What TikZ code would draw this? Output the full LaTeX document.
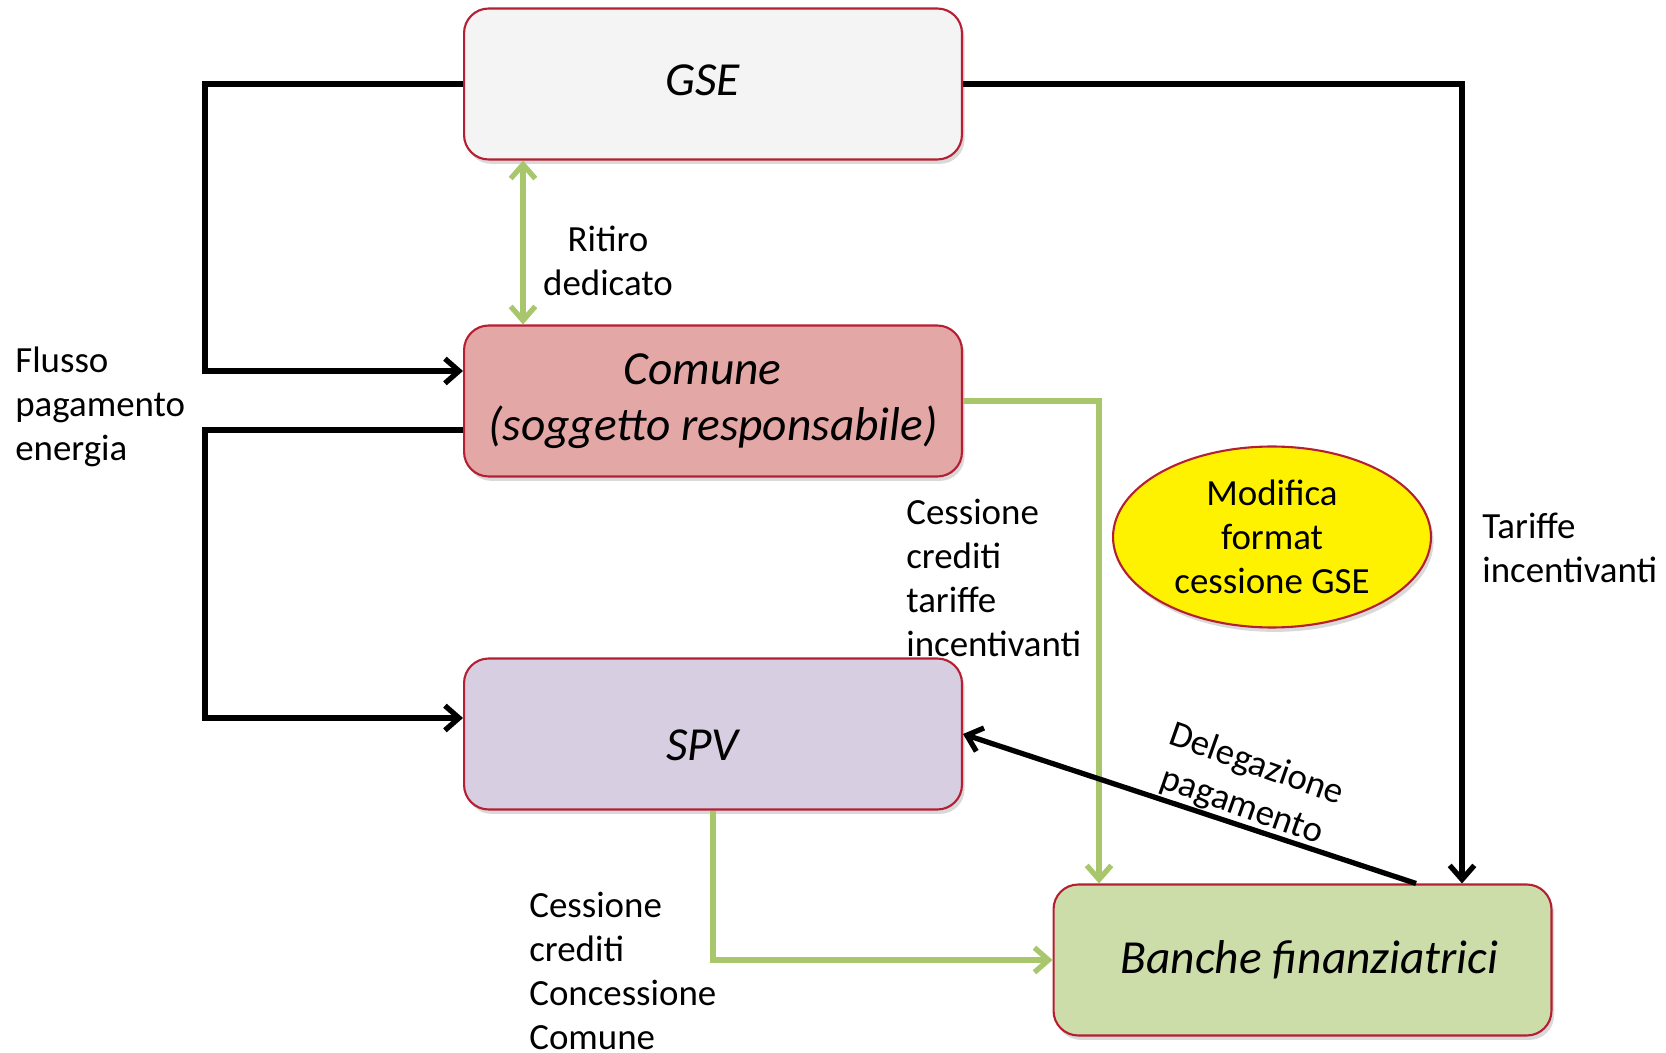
\documentclass[tikz,border=0pt]{standalone}
\usepackage{fontspec}
\setmainfont{Carlito}
\usetikzlibrary{arrows.meta,shapes.geometric,shadows,calc}
\definecolor{boxred}{HTML}{B51F33}
\definecolor{gsegray}{HTML}{F4F4F4}
\definecolor{comunepink}{HTML}{E3A8A6}
\definecolor{spvlilac}{HTML}{D8CEE2}
\definecolor{bancagreen}{HTML}{CDDDAA}
\definecolor{creditgreen}{HTML}{A8C66C}
\begin{document}
\begin{tikzpicture}[x=0.02cm,y=-0.02cm,
 box/.style={draw=boxred,line width=1.2pt,rounded corners=14pt,minimum width=9.96cm,minimum height=3.02cm,inner sep=0pt,align=center,font=\fontsize{27}{32}\selectfont\itshape,drop shadow={opacity=0.3,shadow xshift=1.5pt,shadow yshift=-2.5pt}},
 flow/.style={line width=3pt,-{Straight Barb[length=8pt,width=14pt]}},
 credit/.style={flow,draw=creditgreen},
 lbl/.style={font=\fontsize{21}{25}\selectfont,align=left,inner sep=0pt}]
 \useasboundingbox (0,0) rectangle (1666,1053);
 \node[box,fill=gsegray] (gse) at (713,84) {\hspace*{-12pt}\raisebox{2.4pt}[\height][\depth]{GSE}};
 \node[box,fill=comunepink] (comune) at (713,401) {\hspace*{-12pt}Comune\\(soggetto responsabile)};
 \node[box,fill=spvlilac] (spv) at (713,734) {\hspace*{-12pt}\raisebox{-6.6pt}[\height][\depth]{SPV}};
 \node[box,fill=bancagreen] (banche) at (1302.5,960) {\hspace*{8pt}Banche finanziatrici};
 \node[ellipse,draw=boxred,line width=1.2pt,fill=yellow,minimum width=6.36cm,minimum height=3.62cm,inner sep=0pt,align=center,font=\fontsize{21}{25}\selectfont,drop shadow={opacity=0.3,shadow xshift=1.5pt,shadow yshift=-2.5pt}] (modifica) at (1272,537) {Modifica\\format\\cessione GSE};
 \node[lbl,anchor=west] (flusso) at (15,407) {Flusso\\pagamento\\energia};
 \node[lbl,align=center] (ritiro) at (608,261) {Ritiro\\dedicato};
 \node[lbl,anchor=west] (tariffe) at (1482,548) {Tariffe\\incentivanti};
 \node[lbl,anchor=west] (cessionetariffe) at (906,578) {Cessione\\crediti\\tariffe\\incentivanti};
 \node[lbl,anchor=west] (cessionecomune) at (529,971) {Cessione\\crediti\\Concessione\\Comune};
 \node[lbl,align=center,rotate=-19.5] (delega) at (1249,786) {Delegazione\\pagamento};
 \draw[credit,{Straight Barb[length=8pt,width=14pt]}-{Straight Barb[length=8pt,width=14pt]}] ($(gse.south)+(-190,0)$) -- ($(comune.north)+(-190,0)$);
 \draw[credit] (comune.east) -| ($(banche.north)+(-203.5,0)$);
 \draw[credit] (spv.south) |- (banche.west);
 \draw[flow] (gse.west) -- ++(-258,0) |- ($(comune.west)+(0,-30)$);
 \draw[flow] ($(comune.west)+(0,29)$) -- ++(-258,0) |- ($(spv.west)+(0,-16)$);
 \draw[flow] (gse.east) -| ($(banche.north)+(159.5,0)$);
 \draw[flow] ($(banche.north)+(113.5,0)$) -- (spv.east);
\end{tikzpicture}
\end{document}
